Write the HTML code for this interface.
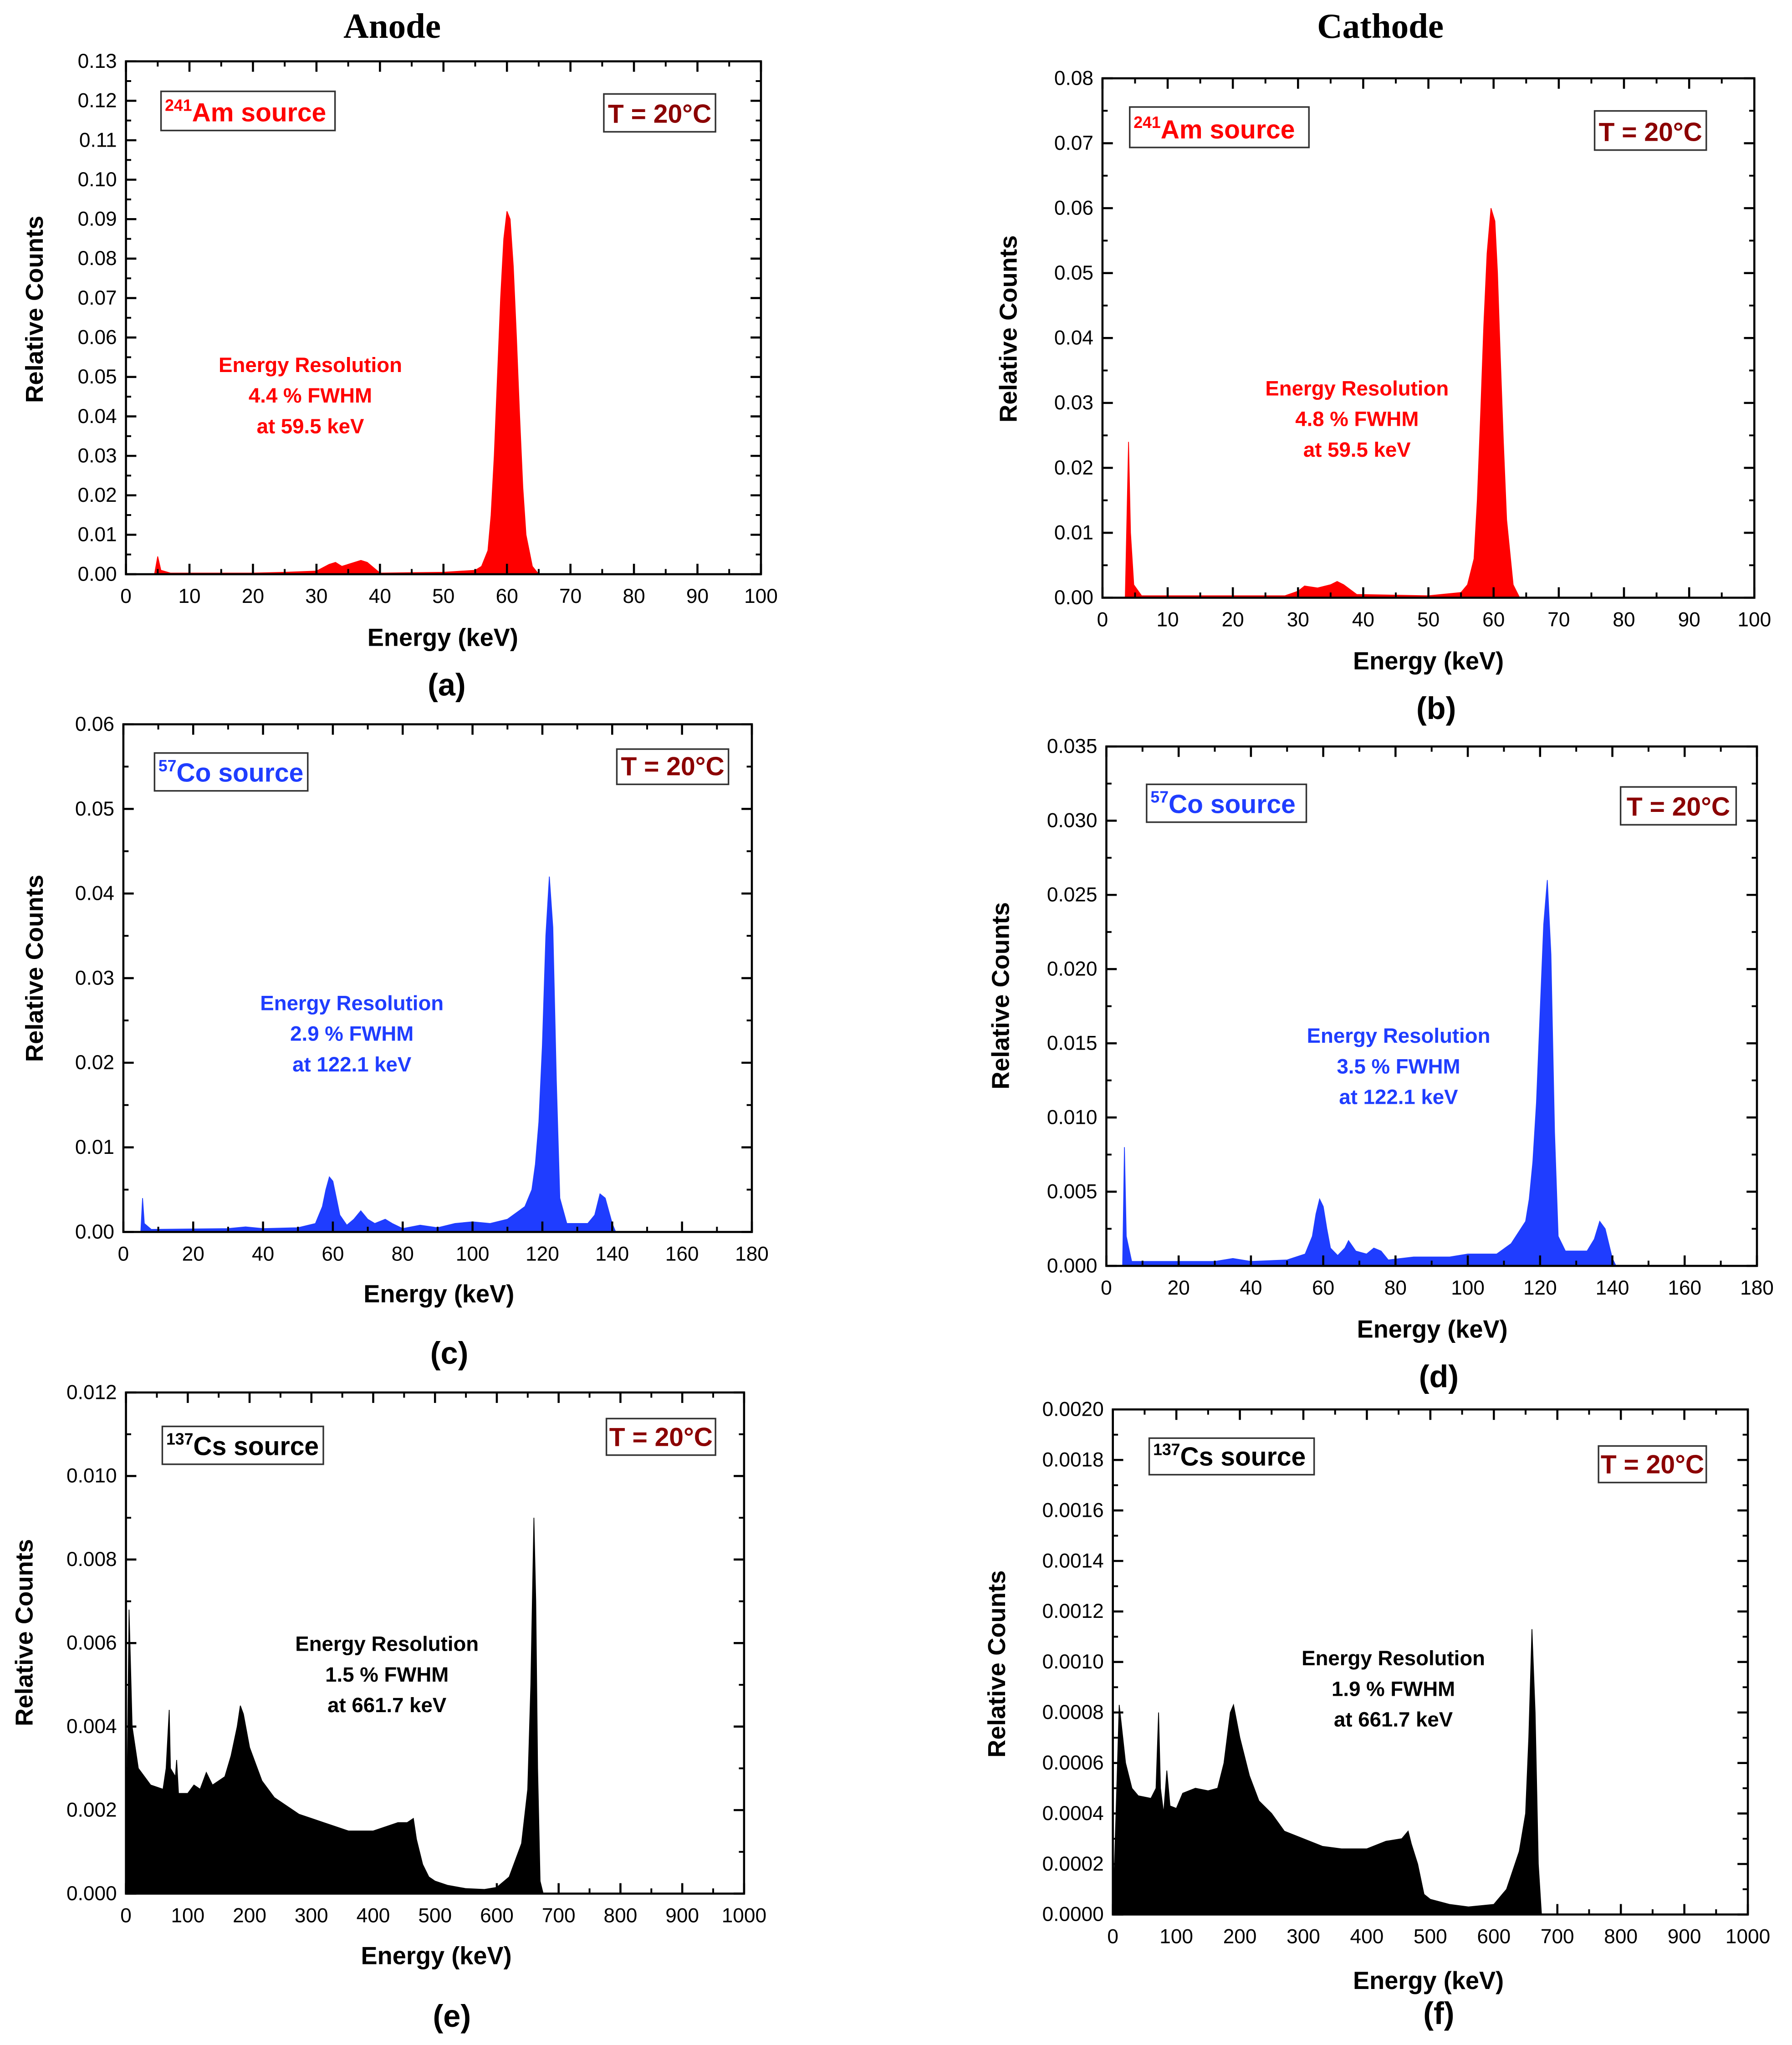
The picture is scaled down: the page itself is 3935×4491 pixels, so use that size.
<!DOCTYPE html>
<html><head><meta charset="utf-8"><style>
html,body{margin:0;padding:0;background:#fff;}
svg{display:block;}
</style></head><body>
<svg id="fig" xmlns="http://www.w3.org/2000/svg" width="3935" height="4491" viewBox="0 0 1380 1567" preserveAspectRatio="none">
<rect x="0" y="0" width="1380" height="1567" fill="#fff"/>
<text x="302" y="29" text-anchor="middle" font-family="Liberation Serif, serif" font-weight="bold" font-size="27">Anode</text>
<text x="1063" y="29" text-anchor="middle" font-family="Liberation Serif, serif" font-weight="bold" font-size="27">Cathode</text>
</svg>
<script>
// ---- data arrays (energy keV, relative counts) ----
const amAnodeE = [0,4.5,5,5.5,7,20,25,30,32,33,34,35,37,38,40,50,55,56,57,57.5,58,58.5,59,59.5,60,60.5,61,61.5,62,62.5,63,64,65,100];
const amAnodeC = [0,0,0.0045,0.001,0.0003,0.0003,0.0005,0.0008,0.0025,0.003,0.002,0.0025,0.0035,0.003,0.0003,0.0005,0.001,0.002,0.006,0.015,0.03,0.05,0.07,0.085,0.092,0.09,0.078,0.06,0.04,0.022,0.01,0.002,0,0];
const amCathE = [0,3.5,4,4.3,4.8,6,28,30,31,33,35,36,37,39,50,55,56,57,57.5,58,58.5,59,59.6,60.2,60.6,61,61.5,62,63,64,100];
const amCathC = [0,0,0.024,0.01,0.002,0.0003,0.0003,0.001,0.0018,0.0015,0.002,0.0025,0.002,0.0005,0.0003,0.0008,0.002,0.006,0.015,0.028,0.042,0.053,0.06,0.058,0.05,0.038,0.024,0.012,0.002,0,0];
const coAnodeE = [0,5,5.5,6,8,30,35,40,50,55,57,58,59,60,61,62,64,66,68,70,72,75,77,80,85,90,95,100,105,110,115,117,118,119,120,121,122,123,124,125,127,133,135,136.5,138,140,141,180];
const coAnodeC = [0,0,0.004,0.001,0.0003,0.0004,0.0006,0.0004,0.0005,0.001,0.003,0.005,0.0065,0.006,0.004,0.002,0.0008,0.0015,0.0025,0.0015,0.001,0.0015,0.001,0.0004,0.0008,0.0005,0.001,0.0012,0.001,0.0015,0.003,0.005,0.008,0.013,0.022,0.035,0.042,0.036,0.018,0.004,0.001,0.001,0.002,0.0045,0.004,0.001,0,0];
const coCathE = [0,4.5,5,5.5,7,30,35,40,50,55,57,58,59,60,61,62,64,66,67,69,72,74,76,78,85,95,100,108,112,116,117,118,119,120,121,122,123,124,125,127,133,135,136.5,138,140,141,180];
const coCathC = [0,0,0.008,0.002,0.0003,0.0003,0.0005,0.0003,0.0004,0.0008,0.002,0.0035,0.0045,0.004,0.0025,0.0012,0.0007,0.0012,0.0017,0.001,0.0008,0.0012,0.001,0.0004,0.0006,0.0006,0.0008,0.0008,0.0015,0.003,0.0045,0.007,0.011,0.017,0.023,0.026,0.021,0.009,0.002,0.001,0.001,0.0018,0.003,0.0025,0.0005,0,0];
const csAnodeE = [0,5,10,20,40,60,65,70,72,80,82,85,100,110,120,130,140,150,160,170,180,185,190,200,210,220,240,260,280,300,320,340,360,380,400,420,440,455,465,470,480,490,500,520,550,580,600,620,630,640,650,655,660,663,666,670,675,1000];
const csAnodeC = [0,0.0068,0.004,0.003,0.0026,0.0025,0.003,0.0044,0.003,0.0028,0.0032,0.0024,0.0024,0.0026,0.0025,0.0029,0.0026,0.0027,0.0028,0.0033,0.004,0.0045,0.0043,0.0035,0.0031,0.0027,0.0023,0.0021,0.0019,0.0018,0.0017,0.0016,0.0015,0.0015,0.0015,0.0016,0.0017,0.0017,0.0018,0.0013,0.0007,0.0004,0.0003,0.0002,0.00012,0.0001,0.00015,0.0004,0.0008,0.0012,0.0025,0.005,0.009,0.007,0.003,0.0003,0,0];
const csCathE = [0,5,10,20,30,40,60,68,72,75,80,85,90,100,110,130,150,165,175,185,190,200,215,230,250,270,300,330,360,400,430,455,465,470,480,490,500,530,560,600,620,640,650,655,660,665,670,675,1000];
const csCathC = [0,0.0004,0.00083,0.0006,0.0005,0.00047,0.00046,0.0005,0.0008,0.0005,0.0004,0.00057,0.00043,0.00042,0.00048,0.0005,0.00049,0.0005,0.0006,0.0008,0.00083,0.0007,0.00055,0.00045,0.0004,0.00033,0.0003,0.00027,0.00026,0.00026,0.00029,0.0003,0.00033,0.00028,0.0002,0.00008,0.00006,0.00004,0.00003,0.00004,0.0001,0.00025,0.0004,0.0007,0.00113,0.0008,0.0002,0,0];
// tick label arrays
const yTicksA = ["0.00","0.01","0.02","0.03","0.04","0.05","0.06","0.07","0.08","0.09","0.10","0.11","0.12","0.13"];
const yTicksB = ["0.00","0.01","0.02","0.03","0.04","0.05","0.06","0.07","0.08"];
const yTicksC = ["0.00","0.01","0.02","0.03","0.04","0.05","0.06"];
const yTicksD = ["0.000","0.005","0.010","0.015","0.020","0.025","0.030","0.035"];
const yTicksE = ["0.000","0.002","0.004","0.006","0.008","0.010","0.012"];
const yTicksF = ["0.0000","0.0002","0.0004","0.0006","0.0008","0.0010","0.0012","0.0014","0.0016","0.0018","0.0020"];
const xTicks100 = ["0","10","20","30","40","50","60","70","80","90","100"];
const xTicks180 = ["0","20","40","60","80","100","120","140","160","180"];
const xTicks1000 = ["0","100","200","300","400","500","600","700","800","900","1000"];

const NS="http://www.w3.org/2000/svg";
const svg=document.getElementById('fig');
function mk(tag,attrs,parent){const e=document.createElementNS(NS,tag);for(const k in attrs)e.setAttribute(k,attrs[k]);(parent||svg).appendChild(e);return e;}
const SANS="Liberation Sans, sans-serif";

function panel(p){
  const g=mk('g',{});
  
  
  const {x0,x1,y0,y1}=p;
  const xs=v=>x0+(v-p.xmin)/(p.xmax-p.xmin)*(x1-x0);
  const ys=v=>y1-(v-p.ymin)/(p.ymax-p.ymin)*(y1-y0);
  let d='M'+xs(p.E[0])+','+ys(0);
  for(let i=0;i<p.E.length;i++) d+=' L'+xs(p.E[i])+','+ys(Math.max(0,p.C[i]));
  d+=' L'+xs(p.E[p.E.length-1])+','+ys(0)+' Z';
  const sp=mk('path',{d:d,fill:p.color,stroke:p.color,'stroke-width':0.6},g);
  
  
  const fr=mk('rect',{x:x0,y:y0,width:x1-x0,height:y1-y0,fill:'none',stroke:'#000','stroke-width':1.6},g);
  
  
  const nx=p.xl.length;
  for(let i=0;i<nx;i++){
    const v=p.xmin+(p.xmax-p.xmin)*i/(nx-1);const X=xs(v);
    mk('line',{x1:X,x2:X,y1:y1,y2:y1-8,stroke:'#000','stroke-width':1.6},g);
    mk('line',{x1:X,x2:X,y1:y0,y2:y0+8,stroke:'#000','stroke-width':1.6},g);
    if(i<nx-1){const Xm=xs(v+(p.xmax-p.xmin)/(nx-1)/2);
      mk('line',{x1:Xm,x2:Xm,y1:y1,y2:y1-4,stroke:'#000','stroke-width':1.4},g);
      mk('line',{x1:Xm,x2:Xm,y1:y0,y2:y0+4,stroke:'#000','stroke-width':1.4},g);}
    const t=mk('text',{x:X,y:y1+22,'text-anchor':'middle','font-family':SANS,'font-size':15.5},g);
    
    
    t.textContent=p.xl[i];
  }
  const ny=p.yl.length;
  for(let i=0;i<ny;i++){
    const v=p.ymin+(p.ymax-p.ymin)*i/(ny-1);const Y=ys(v);
    mk('line',{x1:x0,x2:x0+8,y1:Y,y2:Y,stroke:'#000','stroke-width':1.6},g);
    mk('line',{x1:x1,x2:x1-8,y1:Y,y2:Y,stroke:'#000','stroke-width':1.6},g);
    if(i<ny-1){const Ym=ys(v+(p.ymax-p.ymin)/(ny-1)/2);
      mk('line',{x1:x0,x2:x0+4,y1:Ym,y2:Ym,stroke:'#000','stroke-width':1.4},g);
      mk('line',{x1:x1,x2:x1-4,y1:Ym,y2:Ym,stroke:'#000','stroke-width':1.4},g);}
    const t=mk('text',{x:x0-7,y:Y+5,'text-anchor':'end','font-family':SANS,'font-size':15.5},g);
    
    
    t.textContent=p.yl[i];
  }
  const xt=mk('text',{x:p.xtx,y:p.xty,'text-anchor':'middle','font-family':SANS,'font-weight':'bold','font-size':19},g);
  
  
  xt.textContent='Energy (keV)';
  const yt=mk('text',{x:0,y:0,transform:'translate('+p.ytx+','+p.yty+') rotate(-90)','text-anchor':'middle','font-family':SANS,'font-weight':'bold','font-size':19},g);
  
  
  yt.textContent='Relative Counts';
  const lab=mk('text',{x:p.lx,y:p.ly,'text-anchor':'middle','font-family':SANS,'font-weight':'bold','font-size':24},g);
  
  
  lab.textContent='('+p.id+')';
  const sb=mk('rect',{x:p.sb[0],y:p.sb[1],width:p.sb[2]-p.sb[0],height:p.sb[3]-p.sb[1],fill:'#fff',stroke:'#333','stroke-width':1.2},g);
  
  
  const st=mk('text',{x:p.sb[0]+3,y:p.sb[3]-7,'font-family':SANS,'font-weight':'bold','font-size':20,fill:p.tcolor},g);
  
  
  const sup=mk('tspan',{'font-size':12.5,dy:-8},st);sup.textContent=p.iso;
  const rest=mk('tspan',{dy:8},st);rest.textContent=p.el+' source';
  const tb=mk('rect',{x:p.tb[0],y:p.tb[1],width:p.tb[2]-p.tb[0],height:p.tb[3]-p.tb[1],fill:'#fff',stroke:'#333','stroke-width':1.2},g);
  
  
  const tt=mk('text',{x:(p.tb[0]+p.tb[2])/2,y:p.tb[3]-7,'text-anchor':'middle','font-family':SANS,'font-weight':'bold','font-size':20,fill:'#8b0000'},g);
  
  
  tt.textContent='T = 20°C';
  const lines=['Energy Resolution',p.res+' % FWHM','at '+p.at+' keV'];
  lines.forEach((s,i)=>{
    const a=mk('text',{x:p.ax,y:p.ay+i*23.5,'text-anchor':'middle','font-family':SANS,'font-weight':'bold','font-size':16,fill:p.tcolor},g);
    
    
    a.textContent=s;
  });
}
const RED='#ff0000',BLUE='#1f3dff',BLK='#000';
panel({id:'a',x0:97,x1:586,y0:47,y1:440,xmin:0,xmax:100,ymin:0,ymax:0.13,E:amAnodeE,C:amAnodeC,color:RED,tcolor:RED,xl:xTicks100,yl:yTicksA,
  xtx:341,xty:495,ytx:33,yty:237,lx:344,ly:533,sb:[124,70,258,100],iso:'241',el:'Am',tb:[465,72,551,101],res:'4.4',at:'59.5',ax:239,ay:285});
panel({id:'b',x0:849,x1:1351,y0:60,y1:458,xmin:0,xmax:100,ymin:0,ymax:0.08,E:amCathE,C:amCathC,color:RED,tcolor:RED,xl:xTicks100,yl:yTicksB,
  xtx:1100,xty:513,ytx:783,yty:252,lx:1106,ly:551,sb:[870,82,1008,113],iso:'241',el:'Am',tb:[1228,85,1314,115],res:'4.8',at:'59.5',ax:1045,ay:303});
panel({id:'c',x0:95,x1:579,y0:555,y1:944,xmin:0,xmax:180,ymin:0,ymax:0.06,E:coAnodeE,C:coAnodeC,color:BLUE,tcolor:BLUE,xl:xTicks180,yl:yTicksC,
  xtx:338,xty:998,ytx:33,yty:742,lx:346,ly:1045,sb:[119,577,237,606],iso:'57',el:'Co',tb:[475,574,561,601],res:'2.9',at:'122.1',ax:271,ay:774});
panel({id:'d',x0:852,x1:1353,y0:572,y1:970,xmin:0,xmax:180,ymin:0,ymax:0.035,E:coCathE,C:coCathC,color:BLUE,tcolor:BLUE,xl:xTicks180,yl:yTicksD,
  xtx:1103,xty:1025,ytx:777,yty:763,lx:1108,ly:1063,sb:[883,601,1006,630],iso:'57',el:'Co',tb:[1248,603,1337,632],res:'3.5',at:'122.1',ax:1077,ay:799});
panel({id:'e',x0:97,x1:573,y0:1067,y1:1451,xmin:0,xmax:1000,ymin:0,ymax:0.012,E:csAnodeE,C:csAnodeC,color:BLK,tcolor:BLK,xl:xTicks1000,yl:yTicksE,
  xtx:336,xty:1505,ytx:25,yty:1251,lx:348,ly:1553,sb:[125,1093,249,1122],iso:'137',el:'Cs',tb:[467,1087,551,1115],res:'1.5',at:'661.7',ax:298,ay:1265});
panel({id:'f',x0:857,x1:1346,y0:1080,y1:1467,xmin:0,xmax:1000,ymin:0,ymax:0.002,E:csCathE,C:csCathC,color:BLK,tcolor:BLK,xl:xTicks1000,yl:yTicksF,
  xtx:1100,xty:1524,ytx:774,yty:1275,lx:1108,ly:1551,sb:[885,1102,1012,1130],iso:'137',el:'Cs',tb:[1231,1108,1314,1136],res:'1.9',at:'661.7',ax:1073,ay:1276});
</script>
</body></html>
